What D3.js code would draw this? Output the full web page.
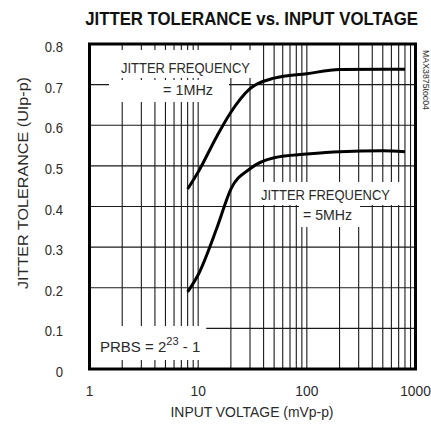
<!DOCTYPE html>
<html>
<head>
<meta charset="utf-8">
<script src="https://cdn.jsdelivr.net/npm/d3@7"></script>
<style>
  body { margin: 0; background: #fff; }
  svg text { font-family: 'Liberation Sans Narrow', 'Arial Narrow', 'Liberation Sans', sans-serif; fill: #2a2a2a; }
</style>
</head>
<body>
<div id="chart"></div>
<script>
// input voltage (mVp-p) and the two measured jitter tolerance curves (UIp-p)
const inputMv = [8, 10, 15, 20, 30, 50, 100, 200, 500, 800]
const jitter1MHz = [0.443, 0.485, 0.575, 0.632, 0.69, 0.716, 0.727, 0.737, 0.738, 0.738]
const jitter5MHz = [0.19, 0.232, 0.35, 0.443, 0.493, 0.52, 0.529, 0.535, 0.537, 0.535]
const xTicks = [1, 10, 100, 1000]
const yTicks = [0, 0.1, 0.2, 0.3, 0.4, 0.5, 0.6, 0.7, 0.8]

const w = 431, h = 430
const margin = { left: 89.5, right: 15.5, top: 44, bottom: 61 }

const svg = d3.select('#chart').append('svg')
  .attr('width', w).attr('height', h)

const x = d3.scaleLog().domain([1, 1000]).range([margin.left, w - margin.right])
const y = d3.scaleLinear().domain([0, 0.8]).range([h - margin.bottom, margin.top])

// squeeze a text to look like the condensed face of the original
function narrow (sel, k) {
  sel.each(function () {
    let len = this.getComputedTextLength()
    d3.select(this).attr('textLength', len * k).attr('lengthAdjust', 'spacingAndGlyphs')
  })
}

// grid
const grid = svg.append('g').attr('stroke', '#1a1a1a').attr('stroke-width', 1.1)
grid.selectAll('line.v').data(x.ticks()).enter().append('line')
  .attr('class', 'v')
  .attr('x1', d => x(d)).attr('x2', d => x(d))
  .attr('y1', y(0)).attr('y2', y(0.8))
grid.selectAll('line.h').data(yTicks).enter().append('line')
  .attr('class', 'h')
  .attr('y1', d => y(d)).attr('y2', d => y(d))
  .attr('x1', x(1)).attr('x2', x(1000))

// white boxes behind the in-plot labels
function label (lines) {
  let g = svg.append('g')
  let rects = g.append('g')
  lines.forEach(l => {
    let t = g.append('text').attr('x', l.x).attr('y', l.y)
      .attr('font-size', 15).attr('text-anchor', 'start')
    if (l.sup) {
      t.append('tspan').text(l.text)
      t.append('tspan').text(l.sup).attr('dy', -7).attr('font-size', 11)
      t.append('tspan').text(l.tail).attr('dy', 7)
    } else {
      t.text(l.text)
    }
    if (l.len) t.attr('textLength', l.len).attr('lengthAdjust', 'spacingAndGlyphs')
    let b = t.node().getBBox()
    let p = l.pad
    rects.append('rect')
      .attr('x', b.x - p[3]).attr('y', b.y - p[0])
      .attr('width', b.width + p[1] + p[3]).attr('height', b.height + p[0] + p[2])
      .attr('fill', '#fff')
  })
}

label([
  { text: 'JITTER FREQUENCY', x: 121, y: 73, len: 129, pad: [9, 5, 2, 12] },
  { text: '= 1MHz', x: 163, y: 95, len: 50, pad: [1, 16, 4, 54] }
])
label([
  { text: 'JITTER FREQUENCY', x: 261, y: 200, len: 129, pad: [4, 12, 2, 4] },
  { text: '= 5MHz', x: 303, y: 220, len: 49, pad: [1, 8, 4, 4] }
])
label([
  { text: 'PRBS = 2', sup: '23', tail: ' - 1', x: 100, y: 352, pad: [9, 6, 5, 10] }
])

// curves
const line = d3.line()
  .x((d, i) => x(inputMv[i]))
  .y(d => y(d))
  .curve(d3.curveMonotoneX)
;[jitter1MHz, jitter5MHz].forEach(s => {
  svg.append('path').datum(s)
    .attr('d', line)
    .attr('fill', 'none')
    .attr('stroke', '#000')
    .attr('stroke-width', 3)
})

// frame
svg.append('rect')
  .attr('x', x(1)).attr('y', y(0.8))
  .attr('width', x(1000) - x(1)).attr('height', y(0) - y(0.8))
  .attr('fill', 'none').attr('stroke', '#000').attr('stroke-width', 3)

// tick labels
svg.selectAll('text.yt').data(yTicks).enter().append('text')
  .attr('class', 'yt')
  .attr('x', 63).attr('y', d => y(d) + 8)
  .attr('text-anchor', 'end').attr('font-size', 14.5)
  .text(d => d3.format('.1~f')(d))
  .call(narrow, 0.9)
svg.selectAll('text.xt').data(xTicks).enter().append('text')
  .attr('class', 'xt')
  .attr('x', d => x(d)).attr('y', 396)
  .attr('text-anchor', 'middle').attr('font-size', 14.5)
  .text(d => d)
  .call(narrow, 0.95)

// titles
let title = svg.append('text')
  .attr('text-anchor', 'middle').attr('font-size', 18).attr('font-weight', 'bold')
  .style('fill', '#111')
  .text('JITTER TOLERANCE vs. INPUT VOLTAGE')
let tk = 333 / title.node().getComputedTextLength()
title.attr('transform', `translate(251.5,25) scale(${tk},1)`)

svg.append('text')
  .attr('x', 252).attr('y', 417)
  .attr('text-anchor', 'middle').attr('font-size', 15)
  .attr('textLength', 163).attr('lengthAdjust', 'spacingAndGlyphs')
  .text('INPUT VOLTAGE (mVp-p)')
svg.append('text')
  .attr('transform', 'translate(28,183) rotate(-90)')
  .attr('text-anchor', 'middle').attr('font-size', 14.5)
  .attr('textLength', 212).attr('lengthAdjust', 'spacingAndGlyphs')
  .text('JITTER TOLERANCE (UIp-p)')
svg.append('text')
  .attr('transform', 'translate(423,80) rotate(90)')
  .attr('text-anchor', 'middle').attr('font-size', 9)
  .attr('textLength', 60).attr('lengthAdjust', 'spacingAndGlyphs')
  .text('MAX3875toc04')
</script>
</body>
</html>
